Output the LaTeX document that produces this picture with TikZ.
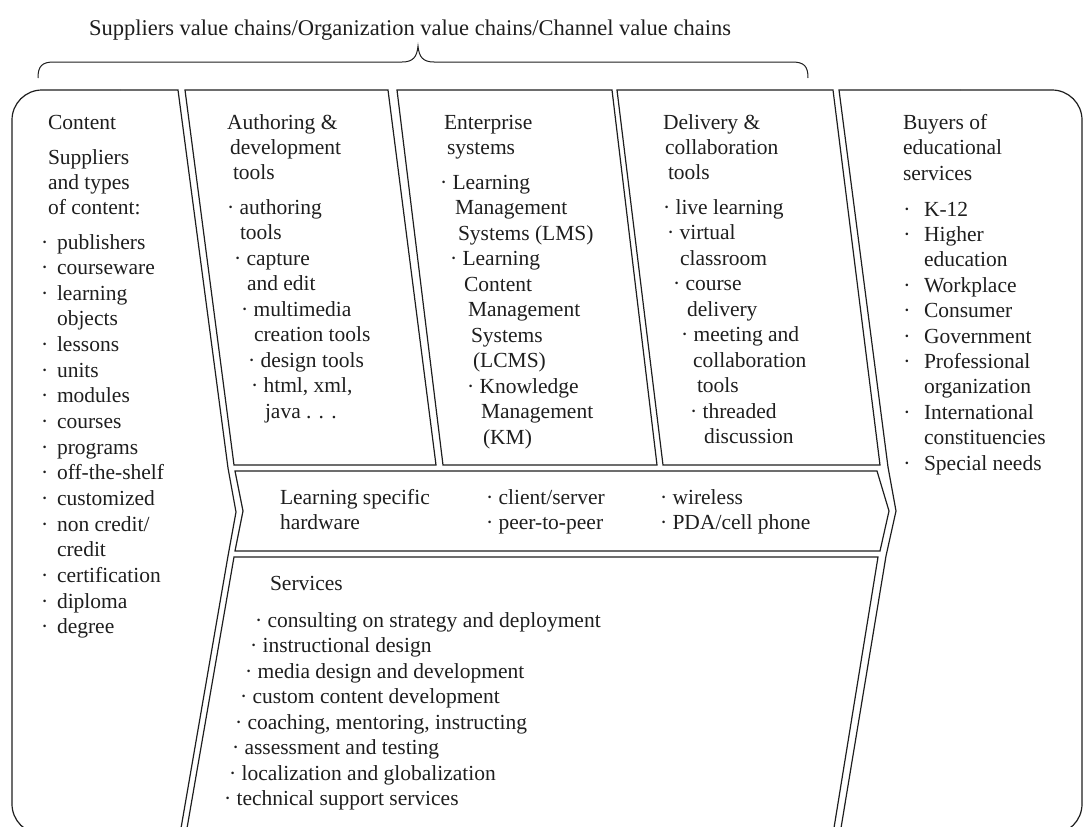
\documentclass[tikz,border=0pt]{standalone}
\usepackage{fontspec}
\setmainfont{Liberation Serif}
\definecolor{ink}{HTML}{1E1E1E}
\begin{document}
\begin{tikzpicture}[x=1pt,y=-1pt,line width=1.2pt,line join=miter,
  txt/.style={anchor=base west,inner sep=0pt,outer sep=0pt,font=\fontsize{21.5}{25.5}\selectfont,text=ink},
  box/.style={draw=ink}]
\useasboundingbox (0,0) rectangle (1084,827);

% title and brace
\node[txt,anchor=base,font=\fontsize{22.5}{26}\selectfont] (title) at (410,35) {Suppliers value chains/Organization value chains/Channel value chains};
\draw[ink,line width=1pt] (38,78) .. controls (38,66) and (42,62) .. (54,62) -- (402,62)
  .. controls (413,62) and (417,57) .. (418,46)
  .. controls (419,57) and (423,62) .. (434,62) -- (792,62)
  .. controls (804,62) and (808,66) .. (808,78);

% content box
\draw[box,rounded corners=30pt] (120,90) -- (12,90) -- (12,834) -- (120,834);
\draw[box] (120,90) -- (178,90) -- (228,468) -- (236,512) -- (228,556) -- (180,834) -- (120,834);
% buyers box
\draw[box,rounded corners=30pt] (960,90) -- (1082,90) -- (1082,834) -- (960,834);
\draw[box] (960,90) -- (839,90) -- (888,467) -- (896,511) -- (886,556) -- (840,834) -- (960,834);
% middle boxes
\draw[box] (185,90) -- (388,90) -- (436,465) -- (234,465) -- cycle;
\draw[box] (397,90) -- (612,90) -- (657,465) -- (443,465) -- cycle;
\draw[box] (617,90) -- (833,90) -- (880,465) -- (663,465) -- cycle;
\draw[box] (235,471) -- (877,471) -- (889,511) -- (880,551) -- (235,551) -- (243,511) -- cycle;
\draw[box] (234,557) -- (878,557) -- (833,834) -- (186,834) -- cycle;

% content column
\node[txt] (ch1) at (48,129) {Content};
\node[txt] (ch2) at (48,164) {Suppliers};
\node[txt] (ch3) at (48,189) {and types};
\node[txt] (ch4) at (48,214) {of content:};
\foreach \cb/\ct [count=\i from 0] in {1/publishers,1/courseware,1/learning,0/objects,1/lessons,1/units,1/modules,1/courses,1/programs,1/off-the-shelf,1/customized,1/{non credit/},0/credit,1/certification,1/diploma,1/degree}
  \node[txt] (cl\i) at (57,{249+25.65*\i}) {\ifnum\cb=1\relax\llap{·\hspace{8.6pt}}\fi\ct};

% authoring column
\foreach \cx/\cy/\ct [count=\i] in {227/129/{Authoring \&},230/154/{development},233/179/{tools},
  227/214/{· authoring},240/239.5/{tools},234/265/{· capture},247/290.5/{and edit},
  241/316/{· multimedia},254/341.5/{creation tools},248/367/{· design tools},
  251/392.5/{· html, xml,},265/418/{java . . .}}
  \node[txt] (au\i) at (\cx,\cy) {\ct};

% enterprise column
\foreach \cx/\cy/\ct [count=\i] in {444/129/{Enterprise},447/154/{systems},440/189/{· Learning},
  455/214.5/{Management},458/240/{Systems (LMS)},450/265.5/{· Learning},464/291/{Content},
  468/316.5/{Management},471/342/{Systems},473/367.5/{(LCMS)},467/393/{· Knowledge},
  481/418.5/{Management},483/444/{(KM)}}
  \node[txt] (en\i) at (\cx,\cy) {\ct};

% delivery column
\foreach \cx/\cy/\ct [count=\i] in {663/129/{Delivery \&},665/154/{collaboration},668/179/{tools},
  663/214/{· live learning},667/239.5/{· virtual},680/265/{classroom},673/290.5/{· course},
  687/316/{delivery},681/341.5/{· meeting and},693/367/{collaboration},697/392.5/{tools},
  690/418/{· threaded},704/443.5/{discussion}}
  \node[txt] (de\i) at (\cx,\cy) {\ct};

% buyers column
\node[txt] (bh1) at (903,129) {Buyers of};
\node[txt] (bh2) at (903,154) {educational};
\node[txt] (bh3) at (903,180) {services};
\foreach \cb/\ct [count=\i from 0] in {1/K-12,1/Higher,0/education,1/Workplace,1/Consumer,1/Government,1/Professional,0/organization,1/International,0/constituencies,1/{Special needs}}
  \node[txt] (bl\i) at (924,{216+25.4*\i}) {\ifnum\cb=1\relax\llap{·\hspace{13.6pt}}\fi\ct};

% hardware band
\node[txt] (hw1) at (280,504) {Learning specific};
\node[txt] (hw2) at (280,529) {hardware};
\node[txt] (hw3) at (486,504) {· client/server};
\node[txt] (hw4) at (486,529) {· peer-to-peer};
\node[txt] (hw5) at (660,504) {· wireless};
\node[txt] (hw6) at (660,529) {· PDA/cell phone};

% services
\node[txt] (sv0) at (270,590) {Services};
\foreach \cx/\cy/\ct [count=\i] in {255/627/{· consulting on strategy and deployment},
  250/652.5/{· instructional design},245/678/{· media design and development},
  240/703.5/{· custom content development},235/729/{· coaching, mentoring, instructing},
  232/754.5/{· assessment and testing},229/780/{· localization and globalization},
  224/805.5/{· technical support services}}
  \node[txt] (sv\i) at (\cx,\cy) {\ct};
\end{tikzpicture}
\end{document}
